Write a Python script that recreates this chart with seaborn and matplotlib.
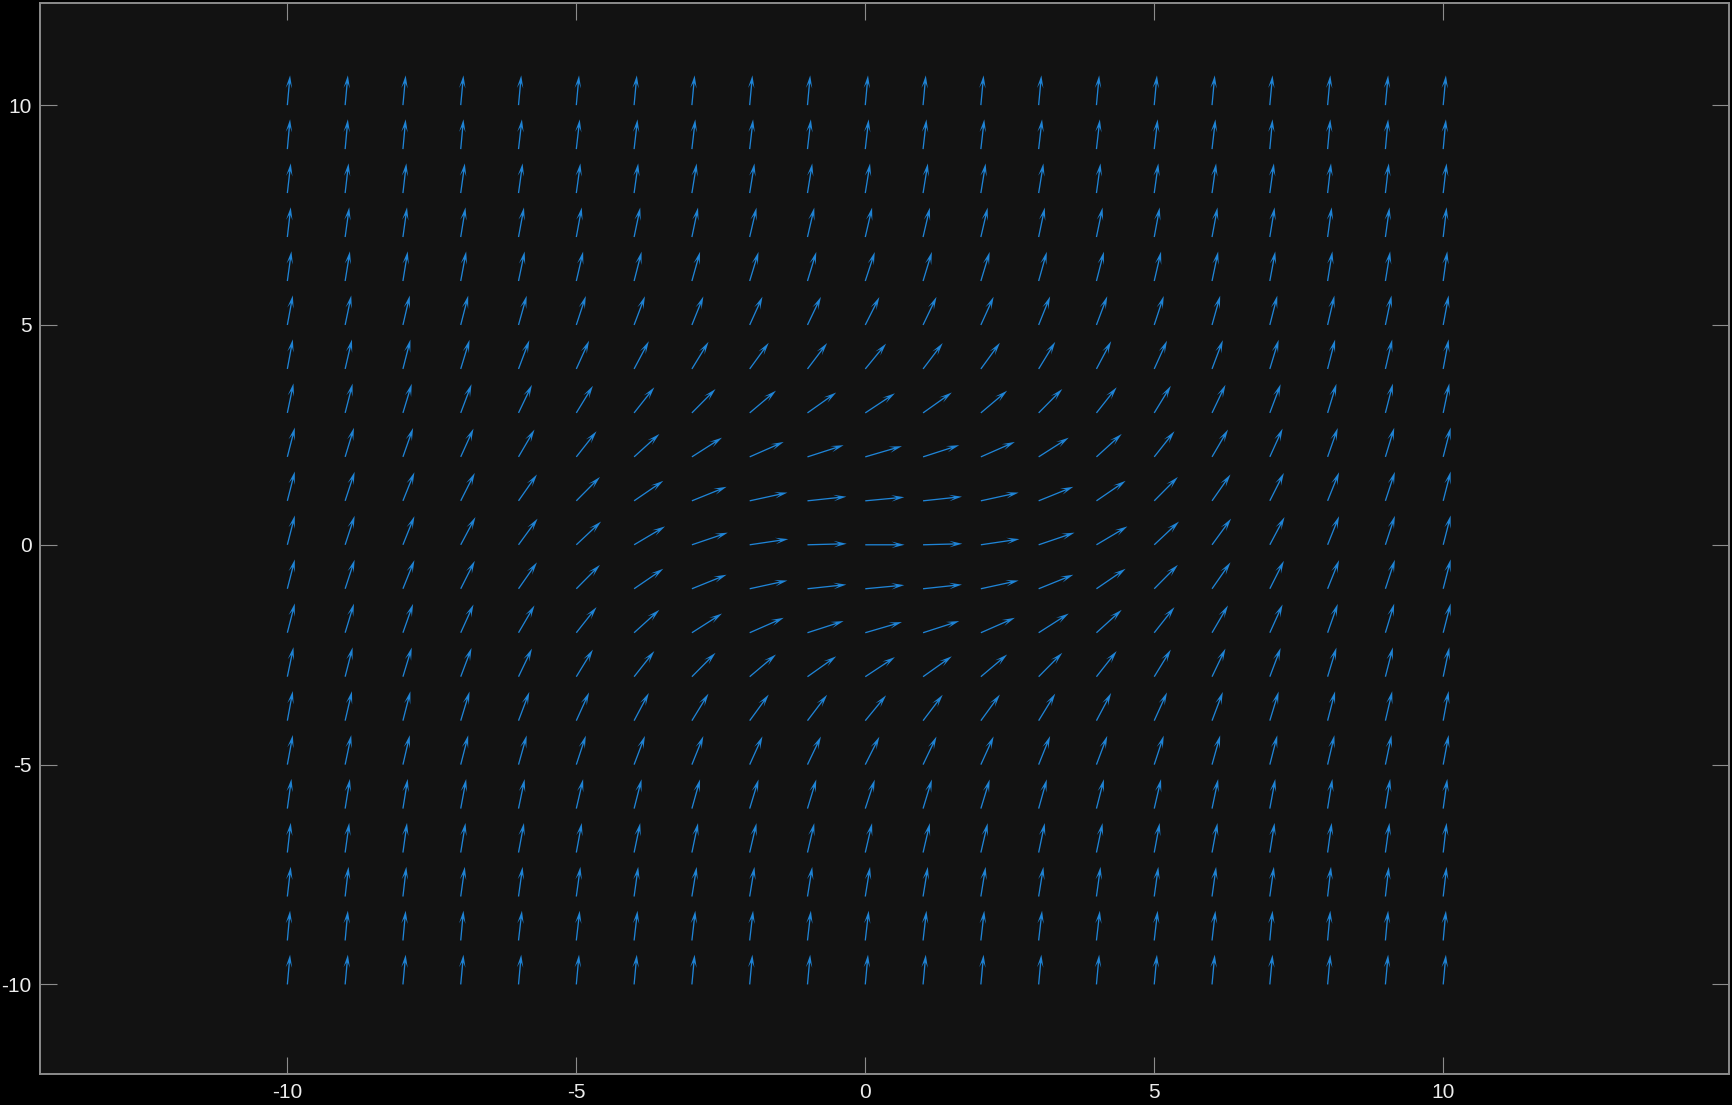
import numpy as np
import matplotlib
matplotlib.use('Agg')
import matplotlib.pyplot as plt
import seaborn as sns

# grid of arrow tails
x_grid = [-10, -9, -8, -7, -6, -5, -4, -3, -2, -1, 0, 1, 2, 3, 4, 5, 6, 7, 8, 9, 10]
y_grid = [10, 9, 8, 7, 6, 5, 4, 3, 2, 1, 0, -1, -2, -3, -4, -5, -6, -7, -8, -9, -10]

# arrow direction in degrees (data space), one row per y
angle_rows = [
    [86, 86, 86, 86, 86, 86, 86, 86, 86, 86, 86, 86, 86, 86, 86, 86, 86, 86, 86, 86, 86],
    [86, 86, 86, 86, 85, 85, 85, 85, 85, 85, 85, 85, 85, 85, 85, 85, 85, 86, 86, 86, 86],
    [85, 85, 85, 84, 84, 84, 84, 83, 83, 83, 83, 83, 83, 83, 84, 84, 84, 84, 85, 85, 85],
    [85, 84, 84, 83, 82, 82, 81, 81, 80, 80, 80, 80, 80, 81, 81, 82, 82, 83, 84, 84, 85],
    [84, 83, 83, 82, 81, 80, 79, 78, 77, 77, 76, 77, 77, 78, 79, 80, 81, 82, 83, 83, 84],
    [82, 81, 80, 79, 78, 76, 74, 73, 71, 70, 69, 70, 71, 73, 74, 76, 78, 79, 80, 81, 82],
    [82, 80, 79, 77, 74, 71, 68, 65, 61, 60, 58, 60, 61, 65, 68, 71, 74, 77, 79, 80, 82],
    [81, 79, 77, 74, 70, 65, 59, 53, 48, 43, 41, 43, 48, 53, 59, 65, 70, 74, 77, 79, 81],
    [79, 77, 75, 71, 66, 59, 50, 40, 30, 23, 21, 23, 30, 40, 50, 59, 66, 71, 75, 77, 79],
    [79, 76, 73, 69, 62, 53, 42, 28, 16, 8, 7, 8, 16, 28, 42, 53, 62, 69, 73, 76, 79],
    [79, 76, 73, 68, 61, 51, 38, 24, 11, 2, 0, 2, 11, 24, 38, 51, 61, 68, 73, 76, 79],
    [79, 76, 73, 69, 62, 53, 42, 28, 16, 8, 7, 8, 16, 28, 42, 53, 62, 69, 73, 76, 79],
    [79, 77, 75, 71, 66, 59, 50, 40, 30, 23, 21, 23, 30, 40, 50, 59, 66, 71, 75, 77, 79],
    [81, 79, 77, 74, 70, 65, 59, 53, 48, 43, 41, 43, 48, 53, 59, 65, 70, 74, 77, 79, 81],
    [82, 80, 79, 77, 74, 71, 68, 65, 61, 60, 58, 60, 61, 65, 68, 71, 74, 77, 79, 80, 82],
    [82, 81, 80, 79, 78, 76, 74, 73, 71, 70, 69, 70, 71, 73, 74, 76, 78, 79, 80, 81, 82],
    [84, 83, 83, 82, 81, 80, 79, 78, 77, 77, 76, 77, 77, 78, 79, 80, 81, 82, 83, 83, 84],
    [85, 84, 84, 83, 82, 82, 81, 81, 80, 80, 80, 80, 80, 81, 81, 82, 82, 83, 84, 84, 85],
    [85, 85, 85, 84, 84, 84, 84, 83, 83, 83, 83, 83, 83, 83, 84, 84, 84, 84, 85, 85, 85],
    [86, 86, 86, 86, 85, 85, 85, 85, 85, 85, 85, 85, 85, 85, 85, 85, 85, 86, 86, 86, 86],
    [86, 86, 86, 86, 86, 86, 86, 86, 86, 86, 86, 86, 86, 86, 86, 86, 86, 86, 86, 86, 86],
]
arrow_len = 0.68

tick_vals = [-10, -5, 0, 5, 10]
tick_labels = ['-10', '-5', '0', '5', '10']

sns.set_style('dark')
plt.rcParams['font.family'] = ['Liberation Sans', 'DejaVu Sans']
plt.rcParams['axes.unicode_minus'] = False

X, Y = np.meshgrid(x_grid, y_grid)
ang = np.radians(np.array(angle_rows, dtype=float))
U = arrow_len * np.cos(ang)
V = arrow_len * np.sin(ang)

fig = plt.figure(figsize=(17.32, 11.05), dpi=100, facecolor='black')
ax = fig.add_axes([0.02309, 0.02833, 0.97500, 0.96923])
ax.set_facecolor('#121212')
ax.grid(False)

# open-looking heads like octave's quiver
ax.quiver(X, Y, U, V, angles='xy', scale_units='xy', scale=1,
          units='dots', width=1.3, headwidth=5, headlength=10,
          headaxislength=6, color='#1f84d6')

ax.set_xlim(-14.28, 14.94)
ax.set_ylim(-12.03, 12.33)
ax.set_xticks(tick_vals)
ax.set_xticklabels(tick_labels)
ax.set_yticks(tick_vals)
ax.set_yticklabels(tick_labels)

for s in ax.spines.values():
    s.set_visible(True)
    s.set_color('#8c8c8c')
    s.set_linewidth(1.4)

ax.tick_params(axis='both', direction='in', length=12, width=0.8,
               color='#8c8c8c', labelcolor='#ececec', labelsize=15,
               top=True, right=True, bottom=True, left=True)
ax.tick_params(axis='x', pad=7)
ax.tick_params(axis='y', pad=6)

fig.savefig('out.png', dpi=100, facecolor='black')
